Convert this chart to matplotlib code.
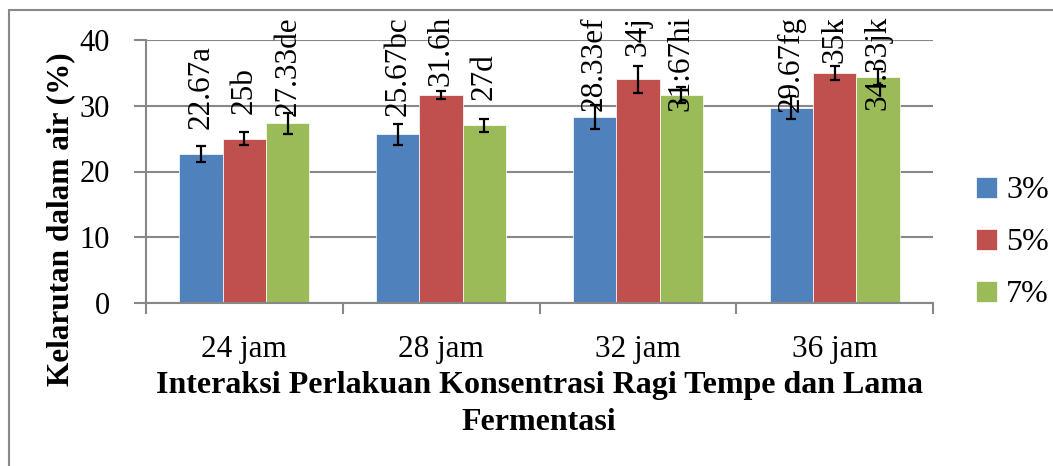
import matplotlib
matplotlib.use("Agg")
import matplotlib.pyplot as plt
import numpy as np
from matplotlib.patches import Rectangle

categories = ["24 jam", "28 jam", "32 jam", "36 jam"]
series_names = ["3%", "5%", "7%"]
vals_3 = [22.67, 25.67, 28.33, 29.67]
vals_5 = [25.0, 31.6, 34.0, 35.0]
vals_7 = [27.33, 27.0, 31.67, 34.33]
err_3 = [1.2, 1.6, 1.8, 1.75]
err_5 = [1.0, 0.6, 2.0, 1.1]
err_7 = [1.6, 1.0, 1.2, 1.25]
labels_3 = ["22.67a", "25.67bc", "28.33ef", "29.67fg"]
labels_5 = ["25b", "31.6h", "34j", "35k"]
labels_7 = ["27.33de", "27d", "31:67hi", "34.33jk"]
yticks = [0, 10, 20, 30, 40]
colors = ["#4F81BD", "#C0504D", "#9BBB59"]

W, H = 1053, 466
fig = plt.figure(figsize=(W / 100, H / 100), dpi=100)
plt.rcParams['font.family'] = ['Liberation Serif', 'DejaVu Serif']

# outer chart border
fig.patches.append(Rectangle((9 / W, -0.1), 1.2, (H - 10) / H + 0.1, transform=fig.transFigure,
                             fill=False, edgecolor="#888888", linewidth=1.5))

ax = fig.add_axes([146 / W, 1 - 303 / H, (933 - 146) / W, (303 - 40) / H])
x = np.arange(len(categories))
bw = 0.22
vals = [vals_3, vals_5, vals_7]
errs = [err_3, err_5, err_7]
labs = [labels_3, labels_5, labels_7]

texts = []
for i in range(3):
    pos = x + (i - 1) * bw
    ax.bar(pos, vals[i], width=bw, color=colors[i], label=series_names[i], zorder=2,
           edgecolor="white", linewidth=0.5)
    ax.errorbar(pos, vals[i], yerr=errs[i], fmt="none", ecolor="black", elinewidth=1.6,
                capsize=3.5, capthick=1.6, zorder=4)
    for p, v, l in zip(pos, vals[i], labs[i]):
        t = ax.annotate(l, (p, v), xytext=(0, 18), textcoords="offset points",
                        rotation=90, ha="center", va="bottom", fontsize=22.5, zorder=5,
                        annotation_clip=False)
        texts.append(t)

ax.set_xlim(-0.5, len(categories) - 0.5)
ax.set_ylim(0, 40)
ax.set_yticks(yticks)
ax.set_yticklabels([str(v) for v in yticks], fontsize=22)
ax.yaxis.grid(True, color="#888888", linewidth=1.5, zorder=0)
ax.set_axisbelow(True)
ax.set_xticks(np.arange(len(categories) + 1) - 0.5)
ax.set_xticklabels([])
ax.set_xticks(x, minor=True)
ax.set_xticklabels(categories, minor=True, fontsize=22.5)
ax.tick_params(axis="x", which="major", length=8, width=1.5, color="#888888", direction="out")
ax.tick_params(axis="x", which="minor", length=0, pad=23)
ax.tick_params(axis="y", length=9, width=1.5, color="#888888", direction="out", pad=17)
for s in ["top", "right"]:
    ax.spines[s].set_visible(False)
for s in ["left", "bottom"]:
    ax.spines[s].set_color("#888888")
    ax.spines[s].set_linewidth(1.5)

fig.text(539 / W, 1 - 385 / H, "Interaksi Perlakuan Konsentrasi Ragi Tempe dan Lama",
         ha="center", va="center", fontsize=23, fontweight="bold")
fig.text(539 / W, 1 - 422 / H, "Fermentasi", ha="center", va="center", fontsize=23,
         fontweight="bold")
fig.text(61 / W, 1 - 219 / H, "Kelarutan dalam air (%)", rotation=90, ha="center",
         va="center", fontsize=22.5, fontweight="bold")

leg = ax.legend(loc="center left", bbox_to_anchor=(976 / W, 1 - 243 / H),
                bbox_transform=fig.transFigure, frameon=False, fontsize=23,
                handlelength=0.65, handleheight=0.65, handletextpad=0.3, labelspacing=0.72,
                borderpad=0, borderaxespad=0)

# push labels down so they stay inside chart area
fig.canvas.draw()
r = fig.canvas.get_renderer()
limit = H - 16
for t in texts:
    bb = t.get_window_extent(r)
    if bb.y1 > limit:
        dy = (bb.y1 - limit) * 72 / 100
        ox, oy = t.xyann
        t.xyann = (ox, oy - dy)

fig.savefig("out.png", dpi=100)
